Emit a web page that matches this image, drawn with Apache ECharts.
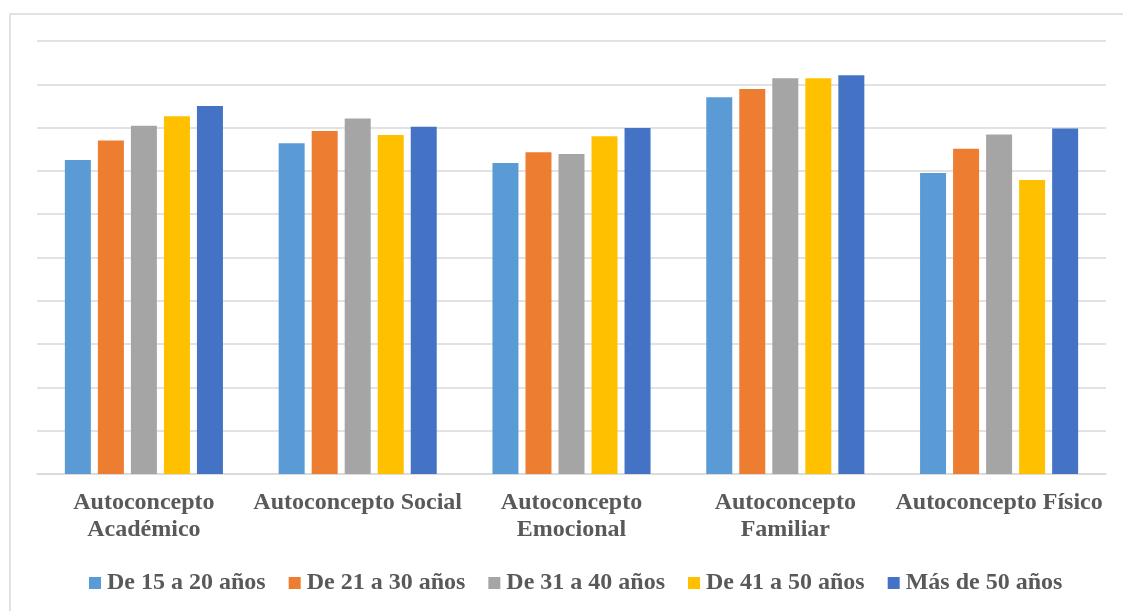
<!DOCTYPE html>
<html>
<head>
<meta charset="utf-8">
<script src="https://cdn.jsdelivr.net/npm/echarts@6/dist/echarts.min.js"></script>
<style>
  html, body { margin: 0; padding: 0; background: #ffffff; }
  #chart { width: 1123px; height: 611px; }
</style>
</head>
<body>
<div id="chart"></div>
<script>
// Dimensiones del autoconcepto (salto de línea donde la etiqueta no cabe)
const categories = [
  'Autoconcepto\nAcadémico',
  'Autoconcepto Social',
  'Autoconcepto\nEmocional',
  'Autoconcepto\nFamiliar',
  'Autoconcepto Físico'
];

// Grupos de edad
const seriesNames = [
  'De 15 a 20 años',
  'De 21 a 30 años',
  'De 31 a 40 años',
  'De 41 a 50 años',
  'Más de 50 años'
];

// Puntuaciones medias por grupo de edad
const edad15a20 = [7.25, 7.64, 7.18, 8.70, 6.95];
const edad21a30 = [7.70, 7.92, 7.43, 8.89, 7.51];
const edad31a40 = [8.04, 8.21, 7.39, 9.14, 7.84];
const edad41a50 = [8.26, 7.83, 7.80, 9.14, 6.79];
const edadMas50 = [8.50, 8.02, 7.99, 9.21, 7.98];

const seriesValues = [edad15a20, edad21a30, edad31a40, edad41a50, edadMas50];
const colors = ['#5B9BD5', '#ED7D31', '#A5A5A5', '#FFC000', '#4472C4'];

const textFont = 'Liberation Serif';

const chart = echarts.init(document.getElementById('chart'), null, { renderer: 'canvas' });

chart.setOption({
  backgroundColor: '#ffffff',
  animation: false,
  color: colors,
  graphic: [{
    type: 'rect',
    left: 7.5,
    top: 11.5,
    shape: { x: 0, y: 0, width: 1130, height: 620 },
    style: { fill: 'none', stroke: '#D9D9D9', lineWidth: 1.5 },
    silent: true,
    z: -1
  }],
  grid: { left: 37, right: 17, top: 41, bottom: 137 },
  legend: {
    left: 84,
    top: 566,
    itemWidth: 12,
    itemHeight: 12,
    itemGap: 23,
    icon: 'rect',
    textStyle: {
      fontFamily: textFont,
      fontWeight: 'bold',
      fontSize: 24,
      color: '#595959',
      padding: [0, 0, 0, 1]
    },
    data: seriesNames
  },
  xAxis: {
    type: 'category',
    data: categories,
    axisLine: { show: true, lineStyle: { color: '#D9D9D9', width: 1.5 } },
    axisTick: { show: false },
    axisLabel: {
      margin: 15,
      interval: 0,
      lineHeight: 27,
      fontFamily: textFont,
      fontWeight: 'bold',
      fontSize: 24,
      color: '#595959'
    }
  },
  yAxis: {
    type: 'value',
    min: 0,
    max: 10,
    interval: 1,
    axisLabel: { show: false },
    axisLine: { show: false },
    axisTick: { show: false },
    splitLine: { lineStyle: { color: '#D9D9D9', width: 1.5 } }
  },
  series: seriesNames.map((name, i) => ({
    name: name,
    type: 'bar',
    data: seriesValues[i],
    barWidth: 26,
    barGap: '27%',
    itemStyle: { color: colors[i] }
  }))
});
</script>
</body>
</html>
